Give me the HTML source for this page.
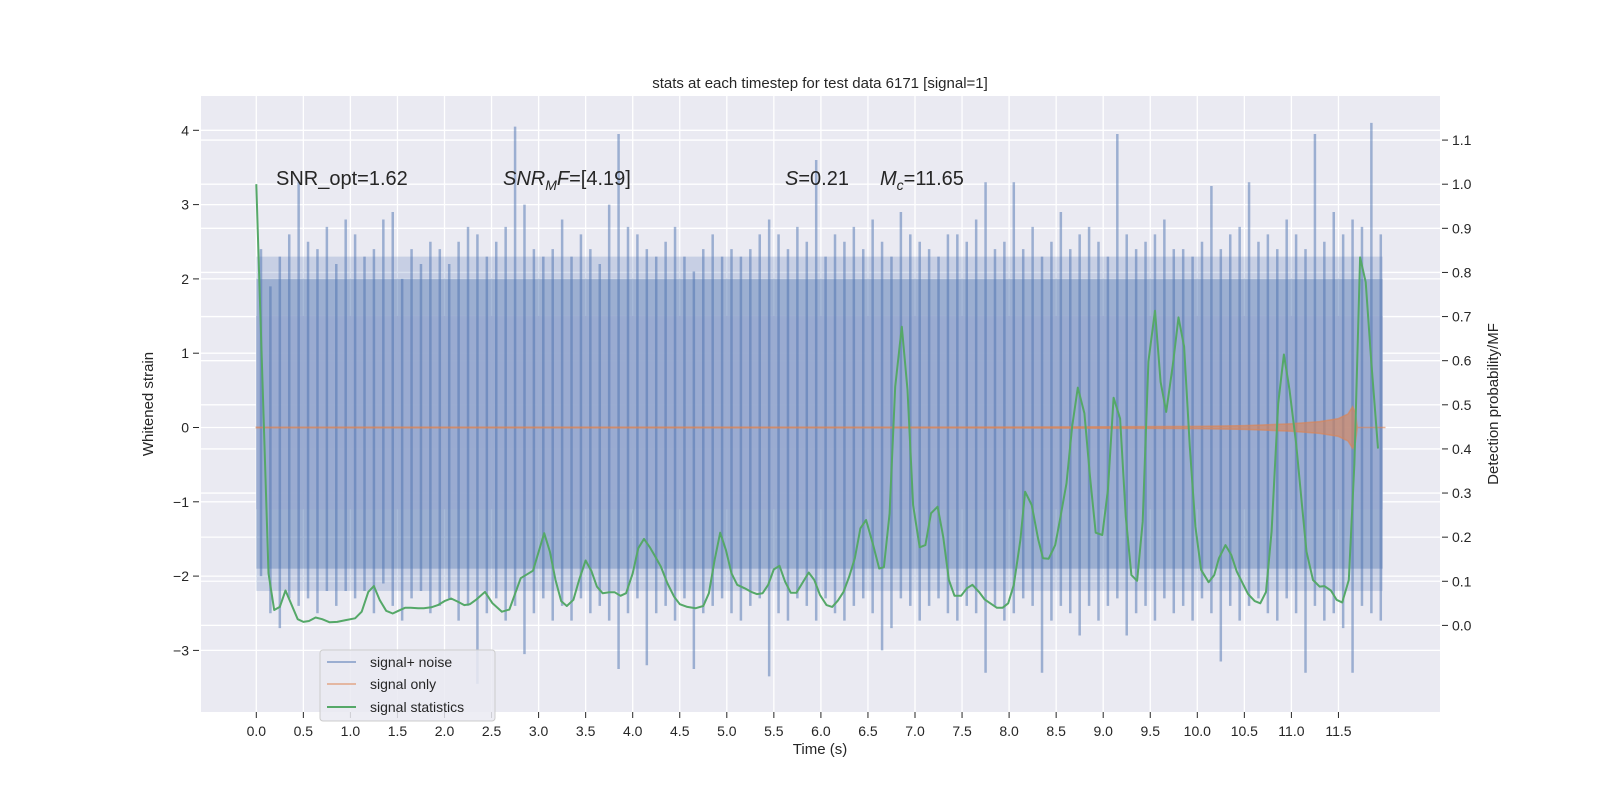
<!DOCTYPE html>
<html><head><meta charset="utf-8"><style>
html,body{margin:0;padding:0;background:#fff;}
svg{display:block;font-family:"Liberation Sans","DejaVu Sans",sans-serif;}
</style></head><body>
<svg id="chart" width="1600" height="800" viewBox="0 0 1600 800" xmlns="http://www.w3.org/2000/svg">
<rect x="0" y="0" width="1600" height="800" fill="#ffffff"/>
<rect x="201" y="96" width="1239" height="616" fill="#eaeaf2"/>
<g id="grid"></g>
<g id="noise"></g>
<g id="signal"></g>
<g id="stats"></g>
<g id="axes"></g>
<text x="820" y="88" font-size="15" text-anchor="middle" fill="#262626">stats at each timestep for test data 6171 [signal=1]</text>
<text x="276" y="185" font-size="20" fill="#262626">SNR_opt=1.62</text>
<text x="503" y="185" font-size="20" fill="#262626"><tspan font-style="italic">SNR</tspan><tspan font-style="italic" font-size="14" dy="5">M</tspan><tspan font-style="italic" dy="-5">F</tspan>=[4.19]</text>
<text x="785" y="185" font-size="20" fill="#262626"><tspan font-style="italic">S</tspan>=0.21</text>
<text x="880" y="185" font-size="20" fill="#262626"><tspan font-style="italic">M</tspan><tspan font-style="italic" font-size="14" dy="5">c</tspan><tspan dy="-5">=11.65</tspan></text>
<text x="820" y="754" font-size="15" text-anchor="middle" fill="#262626">Time (s)</text>
<text x="0" y="0" font-size="15" text-anchor="middle" fill="#262626" transform="translate(153,404) rotate(-90)">Whitened strain</text>
<text x="0" y="0" font-size="15" text-anchor="middle" fill="#262626" transform="translate(1498,404) rotate(-90)">Detection probability/MF</text>
<g id="legend">
<rect x="320" y="650" width="175" height="71" rx="3" fill="#eaeaf2" fill-opacity="0.85" stroke="#cccccc"/>
<line x1="327" y1="662" x2="356" y2="662" stroke="#4c72b0" stroke-opacity="0.5" stroke-width="2"/>
<text x="370" y="667" font-size="14" fill="#262626">signal+ noise</text>
<line x1="327" y1="684" x2="356" y2="684" stroke="#dd8452" stroke-opacity="0.5" stroke-width="2"/>
<text x="370" y="689" font-size="14" fill="#262626">signal only</text>
<line x1="327" y1="707" x2="356" y2="707" stroke="#55a868" stroke-width="2"/>
<text x="370" y="712" font-size="14" fill="#262626">signal statistics</text>
</g>
</svg>
<script>
const xTicks = [0,0.5,1,1.5,2,2.5,3,3.5,4,4.5,5,5.5,6,6.5,7,7.5,8,8.5,9,9.5,10,10.5,11,11.5];
const xTickLabels = ["0.0","0.5","1.0","1.5","2.0","2.5","3.0","3.5","4.0","4.5","5.0","5.5","6.0","6.5","7.0","7.5","8.0","8.5","9.0","9.5","10.0","10.5","11.0","11.5"];
const leftTicks = [-3,-2,-1,0,1,2,3,4];
const leftTickLabels = ["\u22123","\u22122","\u22121","0","1","2","3","4"];
const rightTicks = [0,0.1,0.2,0.3,0.4,0.5,0.6,0.7,0.8,0.9,1.0,1.1];
const rightTickLabels = ["0.0","0.1","0.2","0.3","0.4","0.5","0.6","0.7","0.8","0.9","1.0","1.1"];

const noiseUpper = [2.4,1.9,2.3,2.6,3.3,2.5,2.4,2.7,2.2,2.8, 2.6,2.3,2.4,2.8,2.9,2.0,2.4,2.2,2.5,2.4,
 2.2,2.5,2.7,2.6,2.3,2.5,2.7,4.05,3.0,2.4, 2.3,2.4,2.8,2.3,2.6,2.4,2.2,3.0,3.95,2.7,
 2.6,2.4,2.3,2.5,2.7,2.3,2.1,2.4,2.6,2.3, 2.4,2.3,2.4,2.6,2.8,2.6,2.4,2.7,2.5,3.6,
 2.3,2.6,2.5,2.7,2.4,2.8,2.5,2.3,2.9,2.6, 2.5,2.4,2.3,2.6,2.6,2.5,2.8,3.3,2.4,2.5,
 3.3,2.4,2.7,2.3,2.5,2.9,2.4,2.6,2.7,2.5, 2.3,3.95,2.6,2.4,2.5,2.6,2.8,2.4,2.4,2.3,
 2.5,3.25,2.4,2.6,2.7,3.3,2.5,2.6,2.4,2.8, 2.6,2.4,3.95,2.5,2.9,2.6,2.8,2.7,4.1,2.6];
const noiseLower = [-2.0,-2.5,-2.7,-2.3,-2.4,-2.3,-2.5,-2.2,-2.4,-2.2, -2.3,-2.2,-2.5,-2.1,-2.4,-2.6,-2.3,-2.2,-2.5,-2.4,
 -2.3,-2.6,-2.4,-3.45,-2.5,-2.3,-2.6,-2.4,-3.05,-2.5, -2.3,-2.6,-2.4,-2.6,-2.3,-2.5,-2.4,-2.6,-3.25,-2.5,
 -2.3,-3.2,-2.5,-2.4,-2.6,-2.3,-3.25,-2.5,-2.4,-2.3, -2.5,-2.6,-2.4,-2.3,-3.35,-2.5,-2.6,-2.3,-2.4,-2.6,
 -2.3,-2.5,-2.6,-2.4,-2.3,-2.5,-3.0,-2.7,-2.3,-2.4, -2.6,-2.4,-2.3,-2.5,-2.6,-2.4,-2.5,-3.3,-2.4,-2.6,
 -2.5,-2.3,-2.4,-3.3,-2.6,-2.4,-2.5,-2.8,-2.4,-2.6, -2.4,-2.3,-2.8,-2.5,-2.4,-2.6,-2.3,-2.5,-2.4,-2.6,
 -2.3,-2.5,-3.15,-2.4,-2.6,-2.4,-2.3,-2.5,-2.6,-2.3, -2.5,-3.3,-2.4,-2.6,-2.5,-2.7,-3.3,-2.4,-2.5,-2.6];
const noiseCoreUpper = 1.5;
const noiseCoreLower = -1.1;
const noiseMidUpper = 2.0;
const noiseMidLower = -1.9;
const noiseOuterUpper = 2.3;
const noiseOuterLower = -2.2;

const signalTimes = [0,6,8,9,10,10.5,11,11.3,11.5,11.6,11.65,11.68,11.7,12];
const signalAmps = [0.004,0.005,0.007,0.01,0.015,0.025,0.05,0.08,0.12,0.18,0.28,0.2,0.0,0.0];

const statTimes = [0.00,0.13,0.19,0.25,0.31,0.44,0.50,0.56,0.63,0.70,0.78,0.86,0.95,1.05,1.12,1.19,1.25,1.31,1.38,1.45,
 1.51,1.58,1.64,1.72,1.78,1.86,1.93,2.00,2.07,2.14,2.21,2.27,2.34,2.43,2.51,2.61,2.69,2.81,2.94,3.06,
 3.12,3.18,3.24,3.30,3.37,3.43,3.50,3.56,3.62,3.68,3.75,3.81,3.87,3.93,4.00,4.06,4.12,4.18,4.24,4.30,
 4.37,4.44,4.50,4.58,4.67,4.75,4.81,4.87,4.93,4.99,5.05,5.11,5.19,5.26,5.32,5.38,5.44,5.50,5.56,5.62,
 5.68,5.74,5.80,5.87,5.93,
 5.99,6.06,6.12,6.18,6.24,6.30,6.36,6.42,6.48,6.55,6.62,6.67,6.73,6.79,6.86,6.92,6.98,7.05,7.11,7.17,
 7.24,7.30,7.36,7.42,7.49,7.55,7.61,7.68,7.74,7.80,7.87,7.93,7.99,8.05,8.12,8.17,8.24,8.31,8.36,8.42,
 8.49,8.54,8.61,8.67,8.73,8.80,8.86,8.92,8.99,9.05,9.11,9.18,9.24,9.30,9.36,9.42,9.48,9.55,9.61,9.67,
 9.74,9.80,9.86,9.92,9.98,10.04,10.12,10.18,10.23,10.30,10.36,10.42,10.49,10.54,10.61,10.67,10.73,10.79,10.86,10.92,
 10.98,11.05,11.11,11.16,11.23,11.30,11.35,11.42,11.48,11.54,11.61,11.67,11.73,11.79,11.85,11.92];
const statValues = [1.00,0.118,0.035,0.042,0.079,0.014,0.008,0.010,0.018,0.014,0.007,0.008,0.012,0.016,0.031,0.076,0.089,0.058,0.033,0.027,
 0.033,0.040,0.040,0.039,0.039,0.041,0.046,0.055,0.061,0.054,0.046,0.048,0.059,0.076,0.050,0.031,0.036,0.107,0.124,0.209,
 0.167,0.103,0.055,0.044,0.058,0.103,0.147,0.124,0.088,0.073,0.075,0.075,0.067,0.073,0.118,0.175,0.196,0.178,0.156,0.133,
 0.095,0.065,0.048,0.042,0.039,0.044,0.073,0.148,0.210,0.171,0.118,0.092,0.084,0.076,0.071,0.073,0.092,0.127,0.135,0.099,
 0.074,0.074,0.095,0.120,0.103,
 0.069,0.046,0.042,0.056,0.076,0.110,0.152,0.220,0.239,0.186,0.129,0.132,0.254,0.541,0.677,0.534,0.273,0.177,0.182,0.254,
 0.269,0.201,0.103,0.067,0.067,0.084,0.092,0.076,0.059,0.050,0.040,0.040,0.050,0.092,0.194,0.303,0.273,0.194,0.152,0.151,
 0.182,0.239,0.322,0.450,0.539,0.481,0.337,0.210,0.205,0.307,0.516,0.469,0.246,0.114,0.101,0.235,0.598,0.713,0.552,0.484,
 0.590,0.698,0.632,0.405,0.224,0.126,0.098,0.114,0.152,0.182,0.160,0.122,0.092,0.071,0.055,0.050,0.076,0.213,0.503,0.614,
 0.534,0.413,0.277,0.167,0.103,0.088,0.089,0.079,0.058,0.052,0.103,0.367,0.834,0.778,0.594,0.401];

const NS = "http://www.w3.org/2000/svg";
const PL = 201, PR = 1440, PT = 96, PB = 712;
function xS(t){ return 256.3 + t*94.1; }
function yL(v){ return 427.5 - v*74.3; }
function yR(v){ return 625.4 - v*441.2; }
function mk(tag, attrs, parent){ const e=document.createElementNS(NS,tag); for(const k in attrs) e.setAttribute(k,attrs[k]); parent.appendChild(e); return e; }

const gridG = document.getElementById('grid');
const axesG = document.getElementById('axes');
xTicks.forEach((t,i)=>{
  const g = mk('line',{x1:xS(t),x2:xS(t),y1:PT,y2:PB,stroke:'#ffffff','stroke-width':1.3},gridG);
  
  
  const tk = mk('line',{x1:xS(t),x2:xS(t),y1:PB,y2:PB+6,stroke:'#262626','stroke-width':1},axesG);
  
  
  const lb = mk('text',{x:xS(t),y:PB+24,'font-size':14,'text-anchor':'middle',fill:'#262626'},axesG);
  lb.textContent = xTickLabels[i];
  
  
});
leftTicks.forEach((v,i)=>{
  const g = mk('line',{x1:PL,x2:PR,y1:yL(v),y2:yL(v),stroke:'#ffffff','stroke-width':1.3},gridG);
  
  
  const tk = mk('line',{x1:PL-8,x2:PL-2,y1:yL(v),y2:yL(v),stroke:'#262626','stroke-width':1},axesG);
  
  
  const lb = mk('text',{x:PL-12,y:yL(v)+5,'font-size':14,'text-anchor':'end',fill:'#262626'},axesG);
  lb.textContent = leftTickLabels[i];
  
  
});
rightTicks.forEach((v,i)=>{
  const g = mk('line',{x1:PL,x2:PR,y1:yR(v),y2:yR(v),stroke:'#ffffff','stroke-width':1.3},gridG);
  
  
  const tk = mk('line',{x1:PR+2,x2:PR+8,y1:yR(v),y2:yR(v),stroke:'#262626','stroke-width':1},axesG);
  
  
  const lb = mk('text',{x:PR+12,y:yR(v)+5,'font-size':14,'text-anchor':'start',fill:'#262626'},axesG);
  lb.textContent = rightTickLabels[i];
  
  
});

const noiseG = document.getElementById('noise');
const outerBand = mk('rect',{x:xS(0),y:yL(noiseOuterUpper),width:xS(11.97)-xS(0),height:yL(noiseOuterLower)-yL(noiseOuterUpper),fill:'#4c72b0','fill-opacity':0.22},noiseG);


const midBand = mk('rect',{x:xS(0),y:yL(noiseMidUpper),width:xS(11.97)-xS(0),height:yL(noiseMidLower)-yL(noiseMidUpper),fill:'#4c72b0','fill-opacity':0.35},noiseG);


const coreBand = mk('rect',{x:xS(0),y:yL(noiseCoreUpper),width:xS(11.97)-xS(0),height:yL(noiseCoreLower)-yL(noiseCoreUpper),fill:'#9aabd0','fill-opacity':0.9},noiseG);


noiseUpper.forEach((u,i)=>{
  const t = 0.05 + i*0.1;
  const s = mk('line',{x1:xS(t),x2:xS(t),y1:yL(u),y2:yL(noiseLower[i]),stroke:'#4c72b0','stroke-opacity':0.5,'stroke-width':2.5},noiseG);
  
  
});

const sigG = document.getElementById('signal');
let upperPath='', lowerPath='';
signalTimes.forEach((t,i)=>{ upperPath += (i?'L':'M')+xS(t).toFixed(1)+','+yL(signalAmps[i]).toFixed(1); });
for(let i=signalTimes.length-1;i>=0;i--){ lowerPath += 'L'+xS(signalTimes[i]).toFixed(1)+','+yL(-signalAmps[i]).toFixed(1); }
const sp = mk('path',{d:upperPath+lowerPath+'Z',fill:'#dd8452','fill-opacity':0.6,stroke:'#dd8452','stroke-opacity':0.6,'stroke-width':1.5},sigG);



const stG = document.getElementById('stats');
const pts = statTimes.map((t,i)=>xS(t).toFixed(1)+','+yR(statValues[i]).toFixed(1)).join(' ');
const pl = mk('polyline',{points:pts,fill:'none',stroke:'#55a868','stroke-width':2,'stroke-linejoin':'round'},stG);


</script>
</body></html>
